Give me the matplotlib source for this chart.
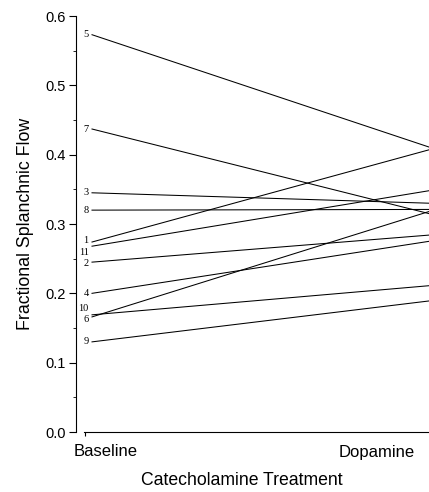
import matplotlib
matplotlib.use("Agg")
import matplotlib.pyplot as plt

# valores (fluxo esplancnico fracional)
pacientes = ["1", "2", "3", "4", "5", "6", "7", "8", "9", "10", "11"]
basal = [0.274, 0.245, 0.345, 0.200, 0.573, 0.166, 0.437, 0.320, 0.130, 0.169, 0.268]
dopamina = [0.407, 0.284, 0.330, 0.275, 0.411, 0.318, 0.315, 0.321, 0.189, 0.211, 0.348]

grupos = ["Baseline", "Dopamine"]
yticks = [0.0, 0.1, 0.2, 0.3, 0.4, 0.5, 0.6]

# deslocamento vertical dos rotulos (pontos) para evitar sobreposicao
desloc = {"1": 1.2, "11": -4.6, "2": -0.8, "10": 4.3, "6": -2.2}

plt.rcParams["font.family"] = ["Liberation Sans", "DejaVu Sans"]

fig = plt.figure(figsize=(4.29, 4.92), dpi=100)
ax = fig.add_axes([75.5 / 429, 60 / 492, (429 - 75.5) / 429, 416 / 492])

for p, a, b in zip(pacientes, basal, dopamina):
    ax.plot([0, 1], [a, b], color="black", lw=0.75)
    ax.annotate(p, xy=(0, a), xytext=(-2.5, desloc.get(p, 0)),
                textcoords="offset points", ha="right", va="center",
                fontsize=7.5, family="Liberation Serif")

ax.set_xlim(-0.049, 1.0)
ax.set_ylim(0, 0.6)

ax.spines["top"].set_visible(False)
ax.spines["right"].set_visible(False)
ax.spines["bottom"].set_bounds(-0.024, 1.0)
ax.spines["left"].set_linewidth(0.8)
ax.spines["bottom"].set_linewidth(0.8)

ax.set_yticks(yticks)
ax.set_yticklabels([f"{v:.1f}" for v in yticks], fontsize=10.5)
ax.set_yticks([0.05, 0.15, 0.25, 0.35, 0.45, 0.55], minor=True)
ax.tick_params(axis="y", which="major", direction="out", length=5, width=0.8, pad=2)
ax.tick_params(axis="y", which="minor", direction="out", length=2, width=0.6)

ax.set_xticks([0.039, 0.846])
ax.set_xticklabels(grupos, fontsize=12)
ax.set_xticks([-0.021], minor=True)
ax.tick_params(axis="x", which="major", length=0, pad=9)
ax.tick_params(axis="x", which="minor", direction="out", length=3, width=0.8)

ax.set_ylabel("Fractional Splanchnic Flow", fontsize=12.8, labelpad=8)
ax.set_xlabel("Catecholamine Treatment", fontsize=12.7)
ax.xaxis.set_label_coords(0.47, -0.095)

fig.savefig("out.png", dpi=100)
